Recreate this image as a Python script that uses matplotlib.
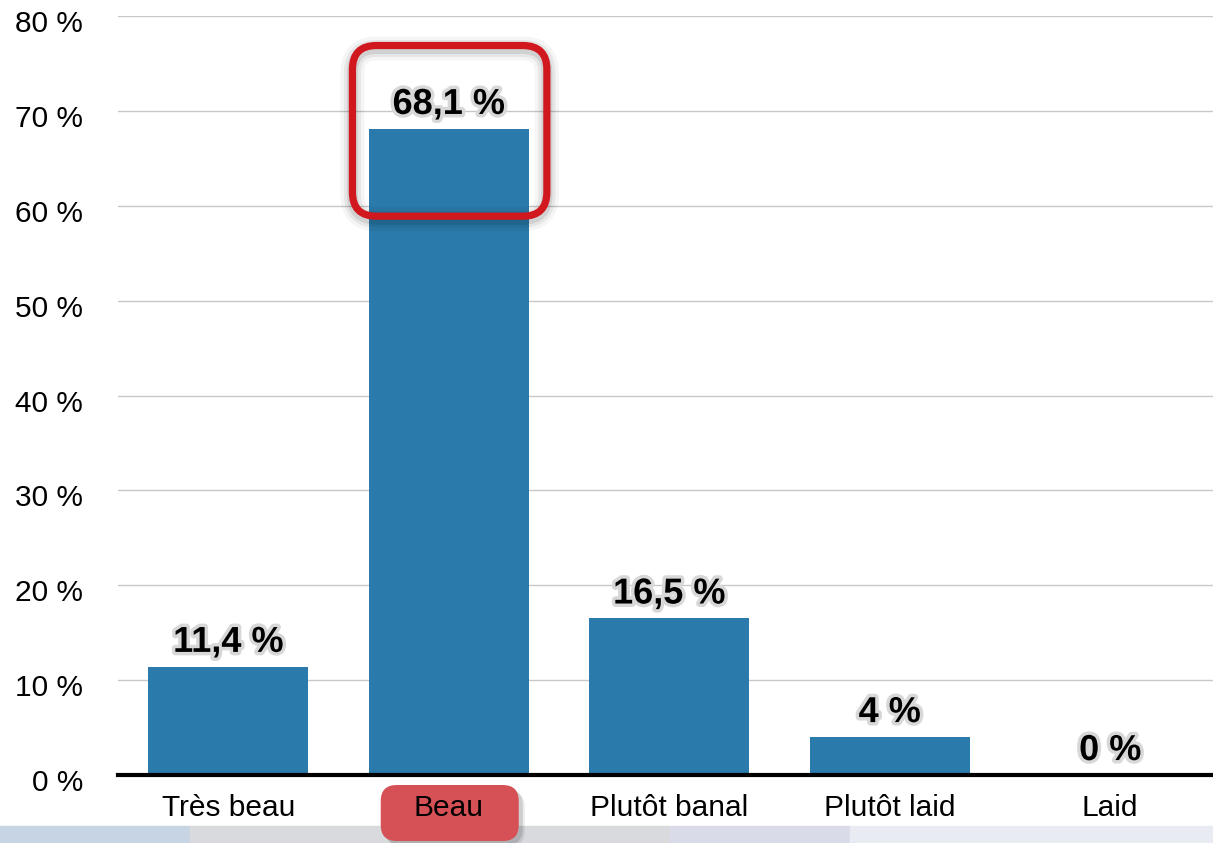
import matplotlib.pyplot as plt
import matplotlib.patheffects as pe
import matplotlib.transforms as mtransforms
from matplotlib.patches import FancyBboxPatch, Rectangle

plt.rcParams['font.family'] = ['Liberation Sans', 'DejaVu Sans']

categories = ['Très beau', 'Beau', 'Plutôt banal', 'Plutôt laid', 'Laid']
values = [11.4, 68.1, 16.5, 4, 0]
value_labels = ['11,4 %', '68,1 %', '16,5 %', '4 %', '0 %']
yticks = [0, 10, 20, 30, 40, 50, 60, 70, 80]
highlight = 1

bar_color = '#2a7aab'
red = '#d0181e'

W, H = 1213, 843
fig = plt.figure(figsize=(W / 100, H / 100), dpi=100)
ax = fig.add_axes([118 / W, (H - 775) / H, 1102.5 / W, 759 / H])

x = range(len(categories))
ax.bar(x, values, width=160 / 220.5, color=bar_color, zorder=3)
ax.set_xlim(-0.5, len(categories) - 0.5)
ax.set_ylim(0, 80)
ax.set_yticks(yticks)
ax.set_yticklabels([f'{t} %' for t in yticks], fontsize=21.5)
ax.set_xticks(list(x))
ax.set_xticklabels(categories, fontsize=21.5)
ax.tick_params(axis='y', length=0, pad=25)
ax.tick_params(axis='x', length=0, pad=14)
ax.grid(axis='y', color='#c8c8c8', linewidth=1.0, zorder=0)
for s in ['top', 'right', 'left']:
    ax.spines[s].set_visible(False)
ax.spines['bottom'].set_linewidth(3)
ax.spines['bottom'].set_zorder(4)

# y labels sit a little below their grid lines
shift = mtransforms.ScaledTranslation(0, -5 / 100, fig.dpi_scale_trans)
for lab in ax.get_yticklabels():
    lab.set_transform(lab.get_transform() + shift)

glow = [pe.withStroke(linewidth=5, foreground='#d8d8d8')]
for i, v in enumerate(values):
    ax.annotate(value_labels[i], (i, v), xytext=(0, 5), textcoords='offset points',
                ha='center', va='bottom', fontsize=26, fontweight='bold',
                color='black', zorder=6, path_effects=glow)

fig.canvas.draw()
to_px = ax.transData.transform

# red highlight frame around the top of the highlighted bar
(x0, y0) = to_px((highlight - 0.455, values[highlight] - 9.2))
(x1, y1) = to_px((highlight + 0.445, values[highlight] + 9.0))
x0 += 4
y1 -= 2
for lw, a in [(24, 0.04), (17, 0.06), (11, 0.09)]:
    ax.add_patch(FancyBboxPatch((x0, y0 - 3), x1 - x0, y1 - y0,
                                boxstyle='round,pad=0,rounding_size=24',
                                transform=None, fill=False, ec='black',
                                lw=lw * 0.72, alpha=a, clip_on=False, zorder=7))
ax.add_patch(FancyBboxPatch((x0, y0), x1 - x0, y1 - y0,
                            boxstyle='round,pad=0,rounding_size=24',
                            transform=None, fill=False, ec=red, lw=5.2,
                            clip_on=False, zorder=8))

# background strip at the bottom
strip = [(0, 190, '#c6d4e4'), (190, 670, '#d9dadd'), (670, 850, '#dadbe8'), (850, W, '#e8ebf2')]
for a, b, c in strip:
    ax.add_patch(Rectangle((a, 0), b - a, H - 826, transform=None, color=c,
                           clip_on=False, zorder=0.5))

# red pill behind the highlighted category label
cx = to_px((highlight, 0))[0]
for d, a in [(6, 0.08), (4, 0.12)]:
    ax.add_patch(FancyBboxPatch((cx - 68 + d, 2 - d), 138, 56,
                                boxstyle='round,pad=0,rounding_size=16', transform=None,
                                fc='black', ec='none', alpha=a, clip_on=False, zorder=0.8))
ax.add_patch(FancyBboxPatch((cx - 68, 2), 138, 56,
                            boxstyle='round,pad=0,rounding_size=16', transform=None,
                            fc='#d65155', ec='none', clip_on=False, zorder=1))

fig.savefig('out.png', dpi=100)
